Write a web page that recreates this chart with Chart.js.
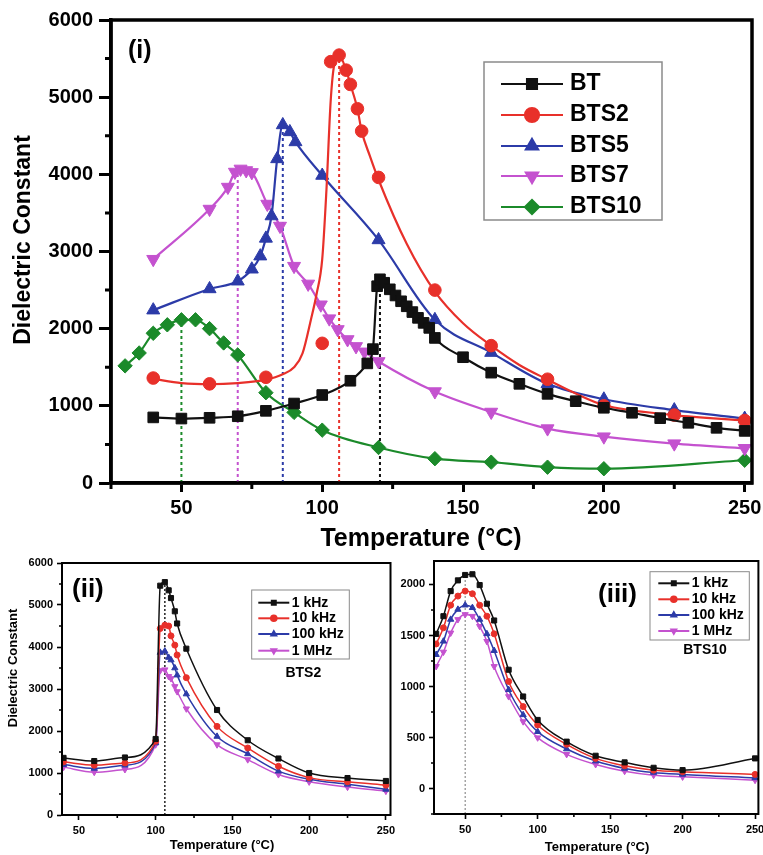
<!DOCTYPE html>
<html>
<head>
<meta charset="utf-8">
<script src="https://cdn.jsdelivr.net/npm/chart.js@4.4.1/dist/chart.umd.min.js"></script>
<style>
  html, body { margin: 0; padding: 0; background: #fff; }
  #wrap { position: relative; width: 763px; height: 855px; overflow: hidden; }
  canvas { position: absolute; }
</style>
</head>
<body>
<div id="wrap">
  <canvas id="mainChart" width="763" height="550" style="left:0;top:0;width:763px;height:550px"></canvas>
  <canvas id="bts2Chart" width="400" height="305" style="left:0;top:550px;width:400px;height:305px"></canvas>
  <canvas id="bts10Chart" width="363" height="305" style="left:400px;top:550px;width:363px;height:305px"></canvas>
</div>
<script>
// ======================= DADOS: PAINEL (i) =======================
const mainSeries = ['BT', 'BTS2', 'BTS5', 'BTS7', 'BTS10'];

const btT = [40,50,60,70,80,90,100,110,116,118,119.5,120.5,122,124,126,128,130,132,134,136,138,140,150,160,170,180,190,200,210,220,230,240,250];
const btE = [850,835,845,865,935,1030,1140,1325,1550,1735,2550,2640,2595,2510,2430,2355,2290,2215,2140,2075,2010,1880,1630,1430,1285,1155,1060,975,910,840,780,715,675];

const bts2T = [40,60,80,100,103,106,108.5,110,112.5,114,120,140,160,180,200,225,250];
const bts2E = [1360,1285,1370,1810,5460,5545,5350,5165,4850,4560,3960,2500,1780,1345,1000,880,810];
// curva ajustada do BTS2 (nao passa por todos os pontos)
const bts2FitT = [40,50,60,70,80,86,90,93,96,98,100,101.5,103,104.3,106,108.5,110,112.5,114,117,120,130,140,150,160,170,180,190,200,225,250];
const bts2FitE = [1350,1295,1280,1295,1340,1410,1500,1680,2120,2450,2900,3800,4950,5430,5540,5350,5165,4850,4560,4230,3930,3100,2480,2070,1780,1530,1340,1160,1010,880,810];

const bts5T = [40,60,70,75,78,80,82,84,86,88.5,90.5,100,120,140,160,180,200,225,250];
const bts5E = [2240,2515,2615,2770,2940,3170,3460,4200,4640,4550,4420,3985,3150,2115,1690,1285,1085,945,835];

const bts7T = [40,60,66.5,69,71,73,75,80.5,85,90,95,99.5,102.5,105.5,109,112,115,120,140,160,180,200,225,250];
const bts7E = [2900,3550,3835,4030,4070,4050,4025,3615,3330,2810,2580,2310,2130,1990,1860,1770,1700,1575,1185,920,705,600,510,450];

const bts10T = [30,35,40,45,50,55,60,65,70,80,90,100,120,140,160,180,200,250];
const bts10E = [1518,1685,1940,2050,2115,2115,2000,1815,1660,1170,915,685,460,315,270,205,185,295];

// temperaturas de Curie (linhas pontilhadas) e altura do pico
const peakT = [120.5, 106, 86, 70, 50];
const peakE = [2640, 5545, 4640, 4050, 2115];

const mainXTicks = [50,100,150,200,250];
const mainXMinor = [25,75,125,175,225];
const mainYTicks = [0,1000,2000,3000,4000,5000,6000];
const mainYMinor = [500,1500,2500,3500,4500,5500];

// ======================= DADOS: PAINEL (ii) BTS2 =======================
const freqLabels = ['1 kHz', '10 kHz', '100 kHz', '1 MHz'];
const iiT = bts2T;
const ii1k = bts2E;
const ii10k = [1265,1185,1240,1755,4440,4520,4500,4265,4045,3810,3270,2110,1595,1160,890,790,710];
const ii100k = [1200,1110,1185,1715,3870,3900,3750,3690,3500,3330,2880,1870,1455,1045,850,730,610];
const ii1M = [1140,1020,1085,1675,3440,3460,3300,3250,3060,2940,2530,1675,1320,965,790,665,570];
const iiPeakT = 106;
const iiPeakE = 5545;

const iiXTicks = [50,100,150,200,250];
const iiXMinor = [75,125,175,225];
const iiYTicks = [0,1000,2000,3000,4000,5000,6000];
const iiYMinor = [500,1500,2500,3500,4500,5500];

// ======================= DADOS: PAINEL (iii) BTS10 =======================
const iiiT = bts10T;
const iii1k = [1516,1689,1935,2040,2093,2100,1994,1811,1647,1164,902,672,459,321,256,203,180,295];
const iii10k = [1417,1575,1797,1886,1935,1909,1797,1689,1516,1049,803,623,433,295,222,180,164,138];
const iii100k = [1312,1443,1657,1755,1797,1772,1657,1516,1351,968,722,557,387,269,197,157,138,104];
const iii1M = [1197,1338,1525,1657,1706,1689,1590,1443,1197,902,656,498,335,236,170,131,114,82];
const iiiPeakT = 50;
const iiiPeakE = 2100;

const iiiXTicks = [50,100,150,200,250];
const iiiXMinor = [75,125,175,225];
const iiiYTicks = [0,500,1000,1500,2000];
const iiiYMinor = [-250,250,750,1250,1750];

// ======================= CORES / FONTES =======================
const COL = { black: '#111111', red: '#e8302a', blue: '#2c3ba8', magenta: '#c452cf', green: '#1b8a2a', gray: '#777777' };
const FF = '"Liberation Sans", Arial, sans-serif';

const pts = (xs, ys) => xs.map((x, i) => ({ x, y: ys[i] }));

function series(label, xs, ys, color, style, r, rot, lw, showLine) {
  return {
    label, data: pts(xs, ys), borderColor: color, backgroundColor: color,
    borderWidth: lw, showLine: showLine !== false, cubicInterpolationMode: 'monotone',
    pointStyle: style, pointRadius: r, pointHoverRadius: r, pointRotation: rot,
    pointBackgroundColor: color, pointBorderColor: color, pointBorderWidth: 1, order: 1
  };
}

function dotted(x, yTop, yBottom, color, lw, dash) {
  return {
    label: '', data: [{ x, y: yBottom }, { x, y: yTop }], borderColor: color,
    borderWidth: lw, borderDash: dash, pointRadius: 0, order: 5
  };
}

function axis(min, max, ticks, o) {
  return {
    type: 'linear', min, max,
    afterBuildTicks: s => { s.ticks = ticks.map(v => ({ value: v })); },
    afterFit: s => {
      if (s.isHorizontal()) s.height = o.size; else s.width = o.size;
      s.paddingLeft = s.paddingRight = s.paddingTop = s.paddingBottom = 0;
    },
    grid: { display: true, drawOnChartArea: false, drawTicks: true, tickLength: o.tickLen, tickWidth: o.tickW, tickColor: '#000' },
    border: { display: true, color: '#000', width: o.borderW },
    ticks: { color: '#000', font: { family: FF, size: o.fontSize, weight: 'bold' }, padding: o.pad,
             maxRotation: 0, minRotation: 0, autoSkip: false, callback: v => String(v) }
  };
}

// ======================= PLUGIN: MOLDURA, TICKS MENORES, LEGENDA, TEXTOS =======================
function drawMarker(ctx, style, r, rot, x, y) {
  if (Chart.helpers && Chart.helpers.drawPoint) {
    Chart.helpers.drawPoint(ctx, { pointStyle: style, radius: r, rotation: rot, borderWidth: 1 }, x, y);
  } else {
    ctx.beginPath(); ctx.arc(x, y, r, 0, Math.PI * 2); ctx.fill();
  }
}

const decor = {
  id: 'decor',
  afterDraw(chart, args, o) {
    if (!o || !o.frameW) return;
    const ctx = chart.ctx, a = chart.chartArea;
    const xs = chart.scales.x, ys = chart.scales.y;
    ctx.save();
    ctx.strokeStyle = '#000';
    ctx.lineWidth = o.frameW;
    ctx.strokeRect(a.left, a.top, a.right - a.left, a.bottom - a.top);

    ctx.lineWidth = o.tickW;
    ctx.beginPath();
    o.minorX.forEach(v => { const px = xs.getPixelForValue(v); ctx.moveTo(px, a.bottom); ctx.lineTo(px, a.bottom + o.minorLen); });
    o.minorY.forEach(v => { const py = ys.getPixelForValue(v); ctx.moveTo(a.left - o.minorLen, py); ctx.lineTo(a.left, py); });
    ctx.stroke();

    const L = o.legend;
    if (L) {
      ctx.fillStyle = '#fff';
      ctx.fillRect(L.box[0], L.box[1], L.box[2], L.box[3]);
      ctx.strokeStyle = '#8a8a8a';
      ctx.lineWidth = L.boxW;
      ctx.strokeRect(L.box[0], L.box[1], L.box[2], L.box[3]);
      L.entries.forEach(e => {
        const ds = chart.data.datasets[e.ds];
        ctx.strokeStyle = ds.borderColor; ctx.fillStyle = ds.borderColor;
        ctx.lineWidth = L.lw;
        ctx.beginPath(); ctx.moveTo(L.x1, e.y); ctx.lineTo(L.x2, e.y); ctx.stroke();
        drawMarker(ctx, ds.pointStyle, L.r, ds.pointRotation || 0, (L.x1 + L.x2) / 2, e.y);
        ctx.fillStyle = '#000';
        ctx.font = L.font; ctx.textAlign = 'left'; ctx.textBaseline = 'middle';
        ctx.fillText(ds.label, L.tx, e.y);
      });
    }

    ctx.fillStyle = '#000';
    (o.texts || []).forEach(t => {
      ctx.font = t.font; ctx.textAlign = t.align || 'left'; ctx.textBaseline = 'middle';
      if (t.rot) {
        ctx.save(); ctx.translate(t.x, t.y); ctx.rotate(-Math.PI / 2);
        ctx.fillText(t.text, 0, 0); ctx.restore();
      } else {
        ctx.fillText(t.text, t.x, t.y);
      }
    });
    ctx.restore();
  }
};
Chart.register(decor);

const baseOptions = (padTop, padRight, scales, decorOpts) => ({
  responsive: false, animation: false,
  layout: { padding: { top: padTop, right: padRight, left: 0, bottom: 0 } },
  plugins: { legend: { display: false }, tooltip: { enabled: false }, decor: decorOpts },
  scales
});

// ======================= PAINEL (i) =======================
const mainColors = [COL.black, COL.red, COL.blue, COL.magenta, COL.green];
const mainSets = [
  series(mainSeries[0], btT, btE, COL.black, 'rect', 7.5, 0, 2.2),
  series(mainSeries[1], bts2T, bts2E, COL.red, 'circle', 6.3, 0, 2.2, false),
  Object.assign(series('', bts2FitT, bts2FitE, COL.red, 'circle', 0, 0, 2.2), { pointRadius: 0 }),
  series(mainSeries[2], bts5T, bts5E, COL.blue, 'triangle', 7.5, 0, 2.2),
  series(mainSeries[3], bts7T, bts7E, COL.magenta, 'triangle', 7.5, 180, 2.2),
  series(mainSeries[4], bts10T, bts10E, COL.green, 'rectRot', 7.2, 0, 2.2)
];
peakT.forEach((t, i) => mainSets.push(dotted(t, peakE[i], 0, mainColors[i], 2, [3, 3])));

const mainBold = s => 'bold ' + s + 'px ' + FF;

new Chart(document.getElementById('mainChart'), {
  type: 'line',
  data: { datasets: mainSets },
  options: baseOptions(20, 11, {
    x: axis(25, 252.6, mainXTicks, { size: 67, tickLen: 9, tickW: 3, borderW: 3.5, fontSize: 20, pad: 4 }),
    y: axis(0, 6000, mainYTicks, { size: 111, tickLen: 12, tickW: 3, borderW: 3.5, fontSize: 20, pad: 6 })
  }, {
    frameW: 3.5, tickW: 3, minorLen: 6, minorX: mainXMinor, minorY: mainYMinor,
    legend: {
      box: [484, 62, 178, 158], boxW: 1.5, x1: 501, x2: 563, tx: 570, r: 7, lw: 2.2, font: mainBold(23),
      entries: [{ ds: 0, y: 84 }, { ds: 1, y: 115 }, { ds: 3, y: 146 }, { ds: 4, y: 176 }, { ds: 5, y: 207 }]
    },
    texts: [
      { text: '(i)', x: 128, y: 51, font: mainBold(25) },
      { text: 'Dielectric Constant', x: 24, y: 240, rot: true, align: 'center', font: mainBold(23) },
      { text: 'Temperature (°C)', x: 421, y: 539, align: 'center', font: mainBold(25) }
    ]
  })
});

// ======================= PAINEIS (ii) E (iii) =======================
function freqSets(xs, cols) {
  return [
    series(freqLabels[0], xs, cols[0], COL.black, 'rect', 3.6, 0, 1.5),
    series(freqLabels[1], xs, cols[1], COL.red, 'circle', 3, 0, 1.5),
    series(freqLabels[2], xs, cols[2], COL.blue, 'triangle', 3.6, 0, 1.5),
    series(freqLabels[3], xs, cols[3], COL.magenta, 'triangle', 3.6, 180, 1.5)
  ];
}
const smallBold = s => 'bold ' + s + 'px ' + FF;
const subAxis = (size, pad) => ({ size, tickLen: 5, tickW: 1.6, borderW: 2, fontSize: 11, pad });

const iiSets = freqSets(iiT, [ii1k, ii10k, ii100k, ii1M]);
iiSets.push(dotted(iiPeakT, iiPeakE, 0, '#222', 1.5, [2, 2]));

new Chart(document.getElementById('bts2Chart'), {
  type: 'line',
  data: { datasets: iiSets },
  options: baseOptions(13, 9.5, {
    x: axis(39, 253, iiXTicks, subAxis(40, 4)),
    y: axis(0, 6000, iiYTicks, subAxis(62, 4))
  }, {
    frameW: 2, tickW: 1.6, minorLen: 3, minorX: iiXMinor, minorY: iiYMinor,
    legend: {
      box: [251.7, 40, 97.6, 69], boxW: 1, x1: 258.3, x2: 289.3, tx: 291.7, r: 2.8, lw: 2, font: smallBold(14),
      entries: [{ ds: 0, y: 52.7 }, { ds: 1, y: 68.3 }, { ds: 2, y: 84 }, { ds: 3, y: 100.7 }]
    },
    texts: [
      { text: '(ii)', x: 72, y: 40, font: smallBold(26) },
      { text: 'BTS2', x: 303.3, y: 122.7, align: 'center', font: smallBold(14) },
      { text: 'Dielectric Constant', x: 13, y: 118, rot: true, align: 'center', font: smallBold(13) },
      { text: 'Temperature (°C)', x: 222, y: 295, align: 'center', font: smallBold(13) }
    ]
  })
});

const iiiSets = freqSets(iiiT, [iii1k, iii10k, iii100k, iii1M]);
iiiSets.push(dotted(iiiPeakT, iiiPeakE, -250, COL.gray, 1, [2, 2]));

new Chart(document.getElementById('bts10Chart'), {
  type: 'line',
  data: { datasets: iiiSets },
  options: baseOptions(11, 3, {
    x: axis(28.5, 252.3, iiiXTicks, subAxis(41, 4)),
    y: axis(-250, 2230, iiiYTicks, subAxis(34, 4))
  }, {
    frameW: 2, tickW: 1.6, minorLen: 3, minorX: iiiXMinor, minorY: iiiYMinor,
    legend: {
      box: [250, 21.7, 99.3, 68.3], boxW: 1, x1: 258.3, x2: 289.3, tx: 291.7, r: 2.8, lw: 2, font: smallBold(14),
      entries: [{ ds: 0, y: 33.3 }, { ds: 1, y: 49.3 }, { ds: 2, y: 65 }, { ds: 3, y: 81 }]
    },
    texts: [
      { text: '(iii)', x: 198, y: 45, font: smallBold(26) },
      { text: 'BTS10', x: 305, y: 100, align: 'center', font: smallBold(14) },
      { text: 'Temperature (°C)', x: 197, y: 297, align: 'center', font: smallBold(13) }
    ]
  })
});
</script>
</body>
</html>
